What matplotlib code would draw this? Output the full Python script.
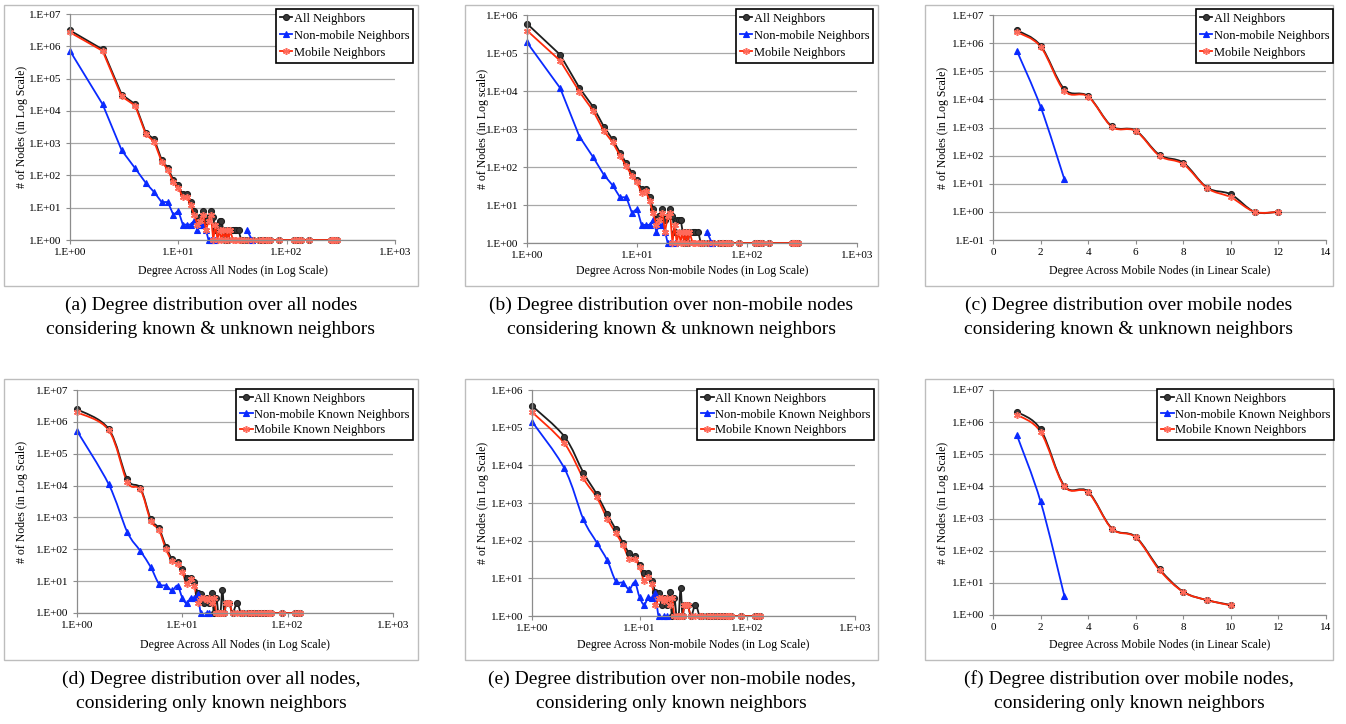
import numpy as np
import matplotlib
matplotlib.use("Agg")
import matplotlib.pyplot as plt
from matplotlib.lines import Line2D
from matplotlib.patches import PathPatch, Rectangle
from matplotlib.path import Path
from matplotlib.ticker import FixedLocator, FuncFormatter, NullLocator

plt.rcParams['font.family'] = ['Liberation Serif', 'DejaVu Serif']

W, H = 1346, 724
nan = np.nan

# ---------------- data ----------------
# shared degree lists
deg_top = [1, 2, 3, 4, 5, 6, 7, 8, 9, 10, 11, 12, 13, 14, 15, 16, 17, 18, 19, 20,
           21, 22, 23, 24, 25, 26, 27, 28, 29, 30, 32, 33, 34, 36]
tail_top_deg = [38, 40, 44, 49, 56, 59, 61, 64, 67, 70, 85, 118, 123, 130, 137, 160,
                255, 262, 270, 278, 290]
tail_top_cnt = [1, 1, 1, 1, 1, 1, 1, 1, 1, 1, 1, 1, 1, 1, 1, 1, 1, 1, 1, 1, 1]
non_top_deg = [1, 2, 3, 4, 5, 6, 7, 8, 9, 10, 11, 12, 13, 14, 15, 16, 17, 18, 19, 20,
               22, 30, 43, 48]

deg_bot = [1, 2, 3, 4, 5, 6, 7, 8, 9, 10, 11, 12, 13, 14, 15, 16, 17, 18, 19, 20,
           21, 22, 23, 24, 25, 26, 27, 28, 30, 33]
tail_bot_deg = [36, 38, 42, 45, 48, 52, 56, 60, 63, 66, 68, 70, 88, 118, 125, 130]
tail_bot_cnt = [1, 1, 1, 1, 1, 1, 1, 1, 1, 1, 1, 1, 1, 1, 1, 1]
non_bot_deg = [1, 2, 3, 4, 5, 6, 7, 8, 9, 10, 11, 12, 13, 14, 15, 17, 18]

# (a) all nodes, known & unknown neighbours
a_all = [3.1e6, 8.0e5, 3.2e4, 1.6e4, 2.1e3, 1.3e3, 310, 170, 72, 49,
         26, 26, 15, 8, 4, 5, 8, 4, 5, 8, 5, 2, 3, 4, 4, 2, 1, 2, 1, 2, 2, 2, 2, 2]
a_mob = [2.7e6, 7.2e5, 2.8e4, 1.45e4, 1.9e3, 1.1e3, 270, 150, 62, 42,
         21, 22, 12, 6, 3, 4, 6, 2, 4, 6, 1, 3, 1, 2, 1, 2, 1, 2, 1, 2, 1, 1, 1, 1]
a_non = [7.2e5, 1.6e4, 600, 165, 59, 30, 15, 15, 6, 8,
         3, 3, 3, 4, 2, 3, 3, 2, 1, 1, 1, nan, 2, 1]

# (b) non-mobile nodes, known & unknown neighbours
b_all = [5.9e5, 9.0e4, 1.2e4, 3.8e3, 1.15e3, 530, 240, 125, 70, 45,
         26, 26, 16, 8, 4, 5, 8, 4, 5, 8, 5, 2, 4, 4, 4, 2, 1, 2, 1, 2, 2, 2, 2, 2]
b_mob = [3.9e5, 6.3e4, 9.5e3, 3.0e3, 880, 450, 200, 105, 58, 40,
         21, 23, 13, 6, 3, 4, 6, 2, 5, 6, 1, 3, 1, 2, 1, 2, 1, 2, 1, 2, 1, 1, 1, 1]
b_non = [1.9e5, 1.2e4, 630, 180, 62, 33, 16, 16, 6.2, 8,
         3, 3, 3, 4, 2, 3, 3, 2, 1, 1, 1, nan, 2, 1]

# (c) mobile nodes, known & unknown neighbours (linear degree)
c_deg = [1, 2, 3, 4, 5, 6, 7, 8, 9, 10, 11, 12]
c_all = [2.9e6, 8.2e5, 2.3e4, 1.3e4, 1.1e3, 780, 106, 56, 7.3, 4.2, 1, 1]
c_mob = [2.5e6, 7.5e5, 2.0e4, 1.25e4, 1.05e3, 750, 98, 50, 7.0, 3.3, 1, 1]
c_non_deg = [1, 2, 3]
c_non = [5.4e5, 5.5e3, 14.5]

# (d) all nodes, known neighbours only
d_all = [2.5e6, 6.0e5, 1.6e4, 8.3e3, 910, 450, 120, 49, 39, 24,
         12.5, 13, 9.4, 4.4, 4, 2, 3, 2, 4.3, 1, 3, 1, 1, 5.4, 1, 2, 2, 2, 1, 2]
d_mob = [2.0e6, 5.5e5, 1.3e4, 7.6e3, 800, 400, 100, 42, 35, 20,
         8, 12, 7, 2, 3, 3, 2.5, 3, 2, 3, 1, 1, 1, 1, 1, 2, 2, 2, 1, 1]
d_non = [5.2e5, 1.1e4, 350, 88, 28, 8.3, 7.2, 5.1, 7.2, 3,
         2, 3, 3, 4, 1, 1, 1]

# (e) non-mobile nodes, known neighbours only
e_all = [3.8e5, 5.8e4, 6.4e3, 1.7e3, 500, 200, 89, 46, 38, 23,
         14, 14, 8.7, 4.4, 4, 2, 3, 2, 4.3, 1, 3, 1, 1, 5.4, 1, 2, 2, 2, 1, 2]
e_mob = [2.6e5, 3.8e4, 4.5e3, 1.4e3, 380, 160, 75, 33, 32, 20,
         8.5, 11, 7, 2, 3, 3, 2.5, 3, 2, 3, 1, 1, 1, 1, 1, 2, 2, 2, 1, 1]
e_non = [1.45e5, 8.3e3, 370, 89, 30, 8.5, 7.6, 5.1, 7.8, 3.1,
         2, 3.1, 3, 4, 1, 1, 1]

# (f) mobile nodes, known neighbours only (linear degree)
f_deg = [1, 2, 3, 4, 5, 6, 7, 8, 9, 10]
f_all = [2.1e6, 6.0e5, 1.05e4, 6.9e3, 490, 270, 27, 5.3, 2.9, 2.05]
f_mob = [1.7e6, 5.0e5, 1.0e4, 6.5e3, 480, 260, 25, 5.2, 2.9, 2.0]
f_non_deg = [1, 2, 3]
f_non = [4.0e5, 3.4e3, 3.9]

top_labels = ['All Neighbors', 'Non-mobile Neighbors', 'Mobile Neighbors']
bot_labels = ['All Known Neighbors', 'Non-mobile Known Neighbors', 'Mobile Known Neighbors']

captions = [
    '(a) Degree distribution over all nodes\nconsidering known & unknown neighbors',
    '(b) Degree distribution over non-mobile nodes\nconsidering known & unknown neighbors',
    '(c) Degree distribution over mobile nodes\nconsidering known & unknown neighbors',
    '(d) Degree distribution over all nodes,\nconsidering only known neighbors',
    '(e) Degree distribution over non-mobile nodes,\nconsidering only known neighbors',
    '(f) Degree distribution over mobile nodes,\nconsidering only known neighbors',
]
xlabels = ['Degree Across All Nodes (in Log Scale)',
           'Degree Across Non-mobile Nodes (in Log Scale)',
           'Degree Across Mobile Nodes (in Linear Scale)'] * 2
ylabels = ['# of Nodes (in Log Scale)', '# of Nodes (in Log scale)',
           '# of Nodes (in Log Scale)', '# of Nodes (in Log Scale)',
           '# of Nodes (in Log Scale)', '# of Nodes (in Log Scale)']

# ---------------- styles ----------------
STY = {
    'all': dict(color='#1e1e1e', marker='o', mfc='#383838', mec='#1e1e1e', ms=4.3, mew=0.8),
    'non': dict(color='#0a2aff', marker='^', mfc='#0a2aff', mec='#0a2aff', ms=4.6, mew=0.8),
    'mob': dict(color='#ff2a0a', marker=(6, 2, 0), mfc='#ff6a5a', mec='#ff6a5a', ms=5.0, mew=1.1),
}
LW = 1.3


def fig_rect(x0, y0, x1, y1):
    return [x0 / W, 1 - y1 / H, (x1 - x0) / W, (y1 - y0) / H]


def excel_fmt(v, pos):
    e = int(round(np.log10(v)))
    return '1.E' + format(e, '+03d')


def smooth_line(ax, x, y, logx, color):
    # Excel-like smoothed line: Catmull-Rom as cubic Bezier in axis space
    x = np.asarray(x, float)
    y = np.asarray(y, float)
    tx = np.log10(x) if logx else x
    ty = np.log10(y)
    n = len(tx)
    verts = [(tx[0], ty[0])]
    codes = [Path.MOVETO]
    for i in range(n - 1):
        a = max(i - 1, 0)
        b = min(i + 2, n - 1)
        verts.append((tx[i] + (tx[i + 1] - tx[a]) / 6, ty[i] + (ty[i + 1] - ty[a]) / 6))
        verts.append((tx[i + 1] - (tx[b] - tx[i]) / 6, ty[i + 1] - (ty[b] - ty[i]) / 6))
        verts.append((tx[i + 1], ty[i + 1]))
        codes += [Path.CURVE4] * 3
    v = np.array(verts)
    if logx:
        v[:, 0] = 10 ** v[:, 0]
    v[:, 1] = 10 ** v[:, 1]
    ax.add_patch(PathPatch(Path(v, codes), fill=False, edgecolor=color, lw=LW,
                           joinstyle='round', capstyle='round'))


def draw_panel(ax, series, logx, smooth):
    for x, y, key in series:
        st = STY[key]
        if smooth:
            smooth_line(ax, x, y, logx, st['color'])
        else:
            ax.plot(x, y, color=st['color'], lw=LW)
        ax.plot(x, y, ls='none', marker=st['marker'], ms=st['ms'], mfc=st['mfc'],
                mec=st['mec'], mew=st['mew'], clip_on=False)


def style_axes(ax, logx, ylo, yhi):
    ax.set_yscale('log')
    ax.set_ylim(ylo, yhi)
    if logx:
        ax.set_xscale('log')
        ax.set_xlim(1, 1000)
        ax.xaxis.set_major_locator(FixedLocator([1, 10, 100, 1000]))
        ax.xaxis.set_major_formatter(FuncFormatter(excel_fmt))
    else:
        ax.set_xlim(0, 14)
        ax.set_xticks(range(0, 15, 2))
    ax.yaxis.set_major_locator(FixedLocator(10.0 ** np.arange(np.log10(ylo), np.log10(yhi) + 0.5)))
    ax.yaxis.set_major_formatter(FuncFormatter(excel_fmt))
    ax.xaxis.set_minor_locator(NullLocator())
    ax.yaxis.set_minor_locator(NullLocator())
    ax.grid(axis='y', color='#a8a8a8', lw=0.9)
    ax.set_axisbelow(True)
    for s in ('top', 'right'):
        ax.spines[s].set_visible(False)
    for s in ('left', 'bottom'):
        ax.spines[s].set_color('#8c8c8c')
        ax.spines[s].set_linewidth(0.9)
    ax.tick_params(length=3, width=0.8, color='#8c8c8c', labelsize=8, pad=3)


fig = plt.figure(figsize=(W / 100, H / 100), dpi=100)
fig.patch.set_facecolor('white')

# chart frame boxes, plot areas, legend anchors (pixels)
boxes = [(4, 5, 418, 286), (465, 5, 878, 286), (925, 5, 1333, 286),
         (4, 379, 418, 660), (465, 379, 878, 660), (925, 379, 1333, 660)]
areas = [(70, 14, 395, 240), (527, 15, 857, 243), (993, 15, 1326, 240),
         (77, 390, 393, 613), (532, 390, 855, 616), (993, 390, 1326, 615)]
leg_anchor = [(413, 9), (873, 9), (1333, 9), (413, 389), (874, 389), (1334, 389)]

panels = [
    ([(deg_top + tail_top_deg, a_all + tail_top_cnt, 'all'),
      (non_top_deg, a_non, 'non'),
      (deg_top + tail_top_deg, a_mob + tail_top_cnt, 'mob')], True, False, 1, 1e7),
    ([(deg_top + tail_top_deg, b_all + tail_top_cnt, 'all'),
      (non_top_deg, b_non, 'non'),
      (deg_top + tail_top_deg, b_mob + tail_top_cnt, 'mob')], True, False, 1, 1e6),
    ([(c_deg, c_all, 'all'), (c_non_deg, c_non, 'non'), (c_deg, c_mob, 'mob')],
     False, True, 0.1, 1e7),
    ([(deg_bot + tail_bot_deg, d_all + tail_bot_cnt, 'all'),
      (non_bot_deg, d_non, 'non'),
      (deg_bot + tail_bot_deg, d_mob + tail_bot_cnt, 'mob')], True, True, 1, 1e7),
    ([(deg_bot + tail_bot_deg, e_all + tail_bot_cnt, 'all'),
      (non_bot_deg, e_non, 'non'),
      (deg_bot + tail_bot_deg, e_mob + tail_bot_cnt, 'mob')], True, True, 1, 1e6),
    ([(f_deg, f_all, 'all'), (f_non_deg, f_non, 'non'), (f_deg, f_mob, 'mob')],
     False, True, 1, 1e7),
]

for i, (series, logx, smooth, ylo, yhi) in enumerate(panels):
    bx0, by0, bx1, by1 = boxes[i]
    fig.add_artist(Rectangle((bx0 / W, 1 - by1 / H), (bx1 - bx0) / W, (by1 - by0) / H,
                             transform=fig.transFigure, fill=False,
                             edgecolor='#bdbdbd', lw=1.0, zorder=0))
    ax = fig.add_axes(fig_rect(*areas[i]))
    ax.set_facecolor('none')
    draw_panel(ax, series, logx, smooth)
    style_axes(ax, logx, ylo, yhi)

    x0, y0, x1, y1 = areas[i]
    cy = (y0 + y1) / 2
    fig.text((bx0 + 18) / W, 1 - cy / H, ylabels[i], rotation=90, ha='center',
             va='center', fontsize=8.5)
    fig.text((x0 + x1) / 2 / W, 1 - (by0 + 266) / H, xlabels[i], ha='center',
             va='center', fontsize=8.5)

    labels = top_labels if i < 3 else bot_labels
    handles = [Line2D([], [], color=STY[k]['color'], lw=LW, marker=STY[k]['marker'],
                      ms=STY[k]['ms'], mfc=STY[k]['mfc'], mec=STY[k]['mec'],
                      mew=STY[k]['mew']) for k in ('all', 'non', 'mob')]
    lx, ly = leg_anchor[i]
    leg = ax.legend(handles, labels, loc='upper right',
                    bbox_to_anchor=(lx / W, 1 - ly / H), bbox_transform=fig.transFigure,
                    borderaxespad=0, fontsize=9, frameon=True, fancybox=False,
                    edgecolor='black', framealpha=1, handlelength=1.0,
                    handletextpad=0.1, borderpad=0.3,
                    labelspacing=0.4 if i < 3 else 0.3)
    leg.get_frame().set_linewidth(1.2)

    ccx = (bx0 + bx1) / 2 / W
    lines = captions[i].split('\n')
    fig.text(ccx, 1 - (by1 + 19) / H, lines[0], ha='center', va='center', fontsize=14)
    fig.text(ccx, 1 - (by1 + 44) / H, lines[1], ha='center', va='center', fontsize=14)

fig.savefig('out.png', dpi=100, facecolor='white')
